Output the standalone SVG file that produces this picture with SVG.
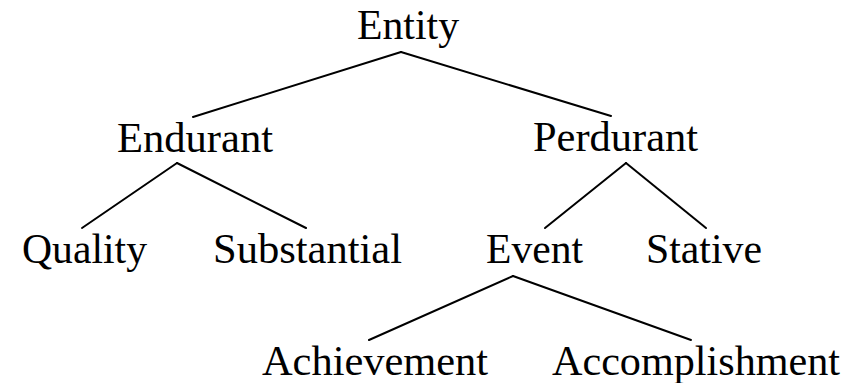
<svg xmlns="http://www.w3.org/2000/svg" width="859" height="383" viewBox="0 0 859 383">
<style>
text{font-family:'Liberation Serif',Tinos,'Times New Roman',Times,serif;font-size:42px;fill:#000}
line{stroke:#000;stroke-width:2;stroke-linecap:round}
</style>
<rect width="859" height="383" fill="#fff"/>
<g id="connectors">
<line x1="401" y1="52" x2="193" y2="117"/>
<line x1="401" y1="52" x2="611" y2="116"/>
<line x1="177" y1="163" x2="82" y2="228"/>
<line x1="177" y1="163" x2="306" y2="228"/>
<line x1="626" y1="163" x2="545" y2="228"/>
<line x1="626" y1="163" x2="706" y2="228"/>
<line x1="513" y1="276" x2="369" y2="340"/>
<line x1="513" y1="276" x2="691" y2="340"/>
</g>
<g id="entity"><text x="357" y="39" textLength="102" lengthAdjust="spacingAndGlyphs">Entity</text></g>
<g id="endurant"><text x="117" y="152" textLength="156" lengthAdjust="spacingAndGlyphs">Endurant</text></g>
<g id="perdurant"><text x="533" y="151" textLength="165" lengthAdjust="spacingAndGlyphs">Perdurant</text></g>
<g id="quality"><text x="22" y="263" textLength="125" lengthAdjust="spacingAndGlyphs">Quality</text></g>
<g id="substantial"><text x="213" y="263" textLength="189" lengthAdjust="spacingAndGlyphs">Substantial</text></g>
<g id="event"><text x="486" y="263" textLength="97" lengthAdjust="spacingAndGlyphs">Event</text></g>
<g id="stative"><text x="646" y="263" textLength="116" lengthAdjust="spacingAndGlyphs">Stative</text></g>
<g id="achievement"><text x="262" y="375" textLength="226" lengthAdjust="spacingAndGlyphs">Achievement</text></g>
<g id="accomplishment"><text x="552" y="375" textLength="288" lengthAdjust="spacingAndGlyphs">Accomplishment</text></g>
</svg>
